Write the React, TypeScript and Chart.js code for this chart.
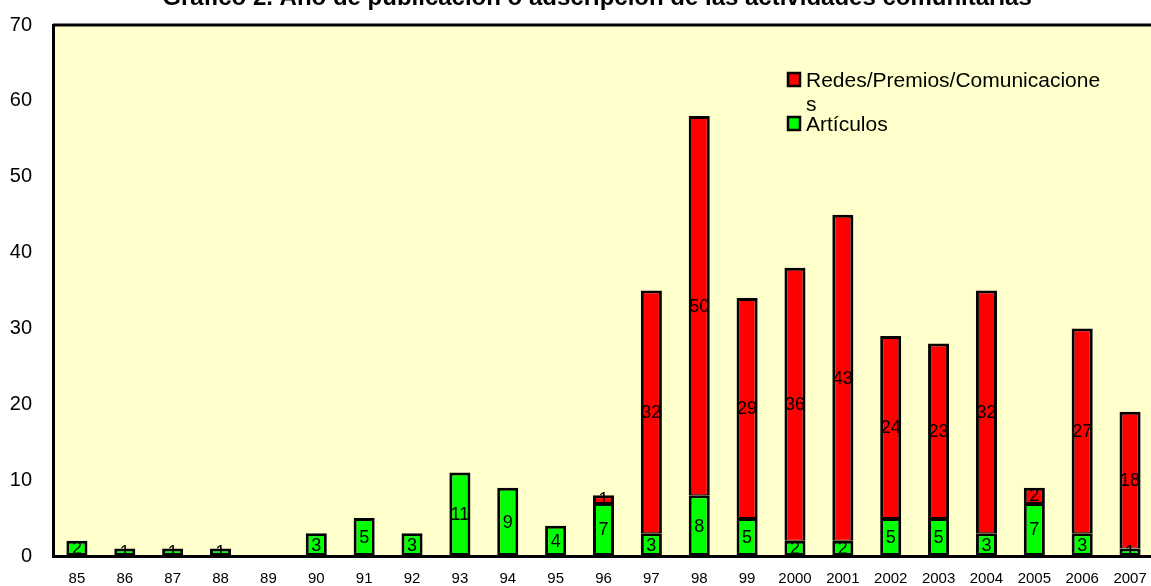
import React, { useEffect, useRef } from "react";
import { Chart, registerables } from "chart.js";

Chart.register(...registerables);

const TITLE = "Gráfico 2. Año de publicación o adscripción de las actividades comunitarias";
const categories = ["85","86","87","88","89","90","91","92","93","94","95","96","97","98","99","2000","2001","2002","2003","2004","2005","2006","2007"];
const articulos = [2,1,1,1,0,3,5,3,11,9,4,7,3,8,5,2,2,5,5,3,7,3,1];
const redes = [0,0,0,0,0,0,0,0,0,0,0,1,32,50,29,36,43,24,23,32,2,27,18];
const yTicks = [0,10,20,30,40,50,60,70];
const legendItems = [
  { lines: ["Redes/Premios/Comunicacione", "s"], color: "#FF0000" },
  { lines: ["Artículos"], color: "#00FF00" },
];

const FONT = "Arial, 'Liberation Sans', sans-serif";

const decorPlugin = {
  id: "decor",
  beforeDraw(chart: any) {
    const { ctx, chartArea: a } = chart;
    ctx.save();
    ctx.fillStyle = "#FFFFCC";
    ctx.fillRect(a.left, a.top, a.right - a.left, a.bottom - a.top);
    ctx.restore();
  },
  afterDatasetsDraw(chart: any) {
    const { ctx, chartArea: a } = chart;
    ctx.save();
    ctx.strokeStyle = "#000";
    ctx.lineWidth = 3;
    ctx.beginPath();
    ctx.moveTo(a.left, a.top);
    ctx.lineTo(a.right, a.top);
    ctx.lineTo(a.right, a.bottom);
    ctx.stroke();
    // data labels
    ctx.fillStyle = "#000";
    ctx.font = `18px ${FONT}`;
    ctx.textAlign = "center";
    ctx.textBaseline = "middle";
    chart.data.datasets.forEach((ds: any, di: number) => {
      const meta = chart.getDatasetMeta(di);
      meta.data.forEach((bar: any, i: number) => {
        const v = ds.data[i];
        if (!v) return;
        const y = (bar.y + bar.base) / 2;
        ctx.fillText(String(v), bar.x, y + 1);
      });
    });
    // legend
    ctx.textAlign = "left";
    ctx.textBaseline = "alphabetic";
    ctx.font = `21px ${FONT}`;
    let y = 87;
    legendItems.forEach((it) => {
      ctx.fillStyle = it.color;
      ctx.fillRect(788, y - 14, 12, 13);
      ctx.strokeStyle = "#000";
      ctx.lineWidth = 2.5;
      ctx.strokeRect(788, y - 14, 12, 13);
      ctx.fillStyle = "#000";
      it.lines.forEach((ln, k) => {
        ctx.fillText(ln, 806, y + k * 24);
      });
      y += 44;
    });
    // title
    ctx.font = `bold 24px ${FONT}`;
    ctx.textAlign = "center";
    ctx.fillText(TITLE, 597, 5);
    ctx.restore();
  },
};

export default function App() {
  const ref = useRef<HTMLCanvasElement>(null);
  useEffect(() => {
    if (!ref.current) return;
    const chart = new Chart(ref.current, {
      type: "bar",
      data: {
        labels: categories,
        datasets: [
          {
            label: "Artículos",
            data: articulos,
            backgroundColor: "#00FF00",
            borderColor: "#000",
            borderWidth: 3,
            borderSkipped: false,
          },
          {
            label: "Redes/Premios/Comunicaciones",
            data: redes,
            backgroundColor: "#FF0000",
            borderColor: "#000",
            borderWidth: { top: 3, left: 3, right: 3, bottom: 1 },
            borderSkipped: false,
          },
        ],
      },
      options: {
        responsive: false,
        animation: false,
        layout: { padding: { top: 24, right: 2, left: 0, bottom: 0 } },
        plugins: { legend: { display: false }, title: { display: false }, tooltip: { enabled: false } },
        datasets: { bar: { categoryPercentage: 1, barPercentage: 0.44 } },
        scales: {
          x: {
            stacked: true,
            grid: { display: false },
            border: { display: true, color: "#000", width: 3 },
            ticks: { color: "#000", font: { family: FONT, size: 15 }, padding: 6, maxRotation: 0, autoSkip: false },
            afterFit: (s: any) => { s.height = 30; },
          },
          y: {
            stacked: true,
            min: 0,
            max: 70,
            grid: { display: false },
            border: { display: true, color: "#000", width: 3 },
            afterBuildTicks: (s: any) => { s.ticks = yTicks.map((v) => ({ value: v })); },
            ticks: { color: "#000", font: { family: FONT, size: 20 }, padding: 13 },
            afterFit: (s: any) => { s.width = 53; },
          },
        },
      },
      plugins: [decorPlugin],
    });
    return () => chart.destroy();
  }, []);
  return (
    <div style={{ position: "fixed", left: 0, top: 0, width: 1151, height: 586, overflow: "hidden", background: "#fff" }}>
      <canvas ref={ref} width={1156} height={586} style={{ display: "block" }} />
    </div>
  );
}
